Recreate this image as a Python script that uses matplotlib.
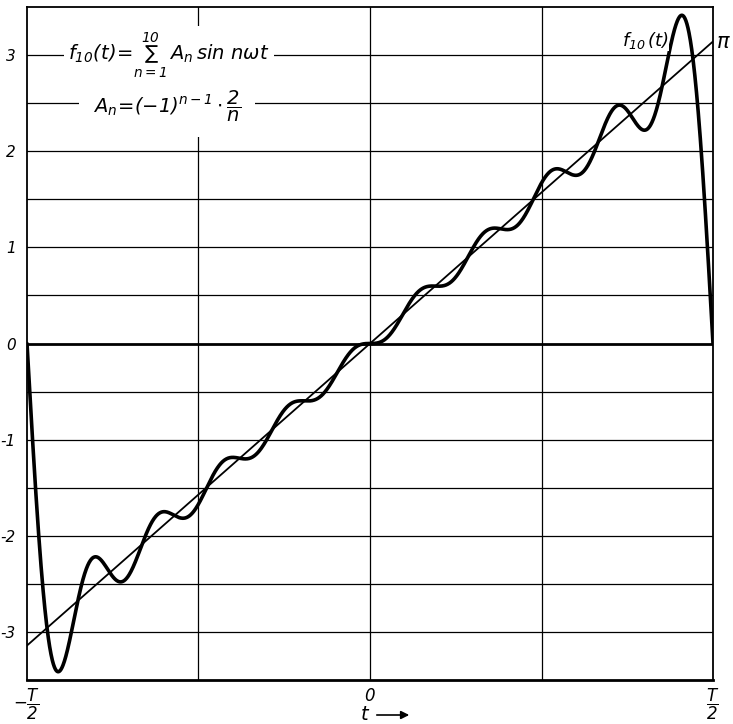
import numpy as np
import matplotlib
matplotlib.use("Agg")
import matplotlib.pyplot as plt

plt.rcParams['mathtext.fontset'] = 'custom'
plt.rcParams['mathtext.it'] = 'DejaVu Sans:italic'
plt.rcParams['mathtext.rm'] = 'DejaVu Sans:italic'
plt.rcParams['mathtext.sf'] = 'DejaVu Sans:italic'

# Fourier coefficients of the partial sum
n_terms = [1, 2, 3, 4, 5, 6, 7, 8, 9, 10]
A_n = [2.0, -1.0, 2/3, -0.5, 0.4, -1/3, 2/7, -0.25, 2/9, -0.2]

y_ticks = [3, 2, 1, 0, -1, -2, -3]
y_tick_labels = ['3', '2', '1', '0', '-1', '-2', '-3']
x_ticks = [-np.pi, 0, np.pi]
x_tick_labels = [r'$-\dfrac{T}{2}$', r'$0$', r'$\dfrac{T}{2}$']

wt = np.linspace(-np.pi, np.pi, 2000)
f10 = np.zeros_like(wt)
for n, a in zip(n_terms, A_n):
    f10 += a * np.sin(n * wt)

fig = plt.figure(figsize=(7.33, 7.24), dpi=100)
ax = fig.add_axes([27/733, 1 - 680/724, (713 - 27)/733, (680 - 7)/724])
ax.set_xlim(-np.pi, np.pi)
ax.set_ylim(-3.5, 3.5)

# grid
for yv in np.arange(-3.0, 3.01, 0.5):
    if abs(yv) < 1e-9:
        continue
    ax.axhline(yv, color='black', lw=0.9, zorder=1)
ax.axhline(0, color='black', lw=2.0, zorder=1)
for xv in [-np.pi/2, 0, np.pi/2]:
    ax.axvline(xv, color='black', lw=0.9, zorder=1)

# straight line y = ωt and the partial sum
ax.plot(wt, wt, color='black', lw=1.3, zorder=3)
ax.plot(wt, f10, color='black', lw=2.6, zorder=4, solid_capstyle='round')

for s in ax.spines.values():
    s.set_linewidth(1.3)
ax.spines['bottom'].set_linewidth(2.0)

ax.set_yticks(y_ticks)
ax.set_yticklabels(y_tick_labels, fontstyle='italic', fontsize=11)
ax.set_xticks(x_ticks)
ax.set_xticklabels(x_tick_labels, fontsize=12)
ax.tick_params(length=0, pad=5)
ax.tick_params(axis='y', pad=8)

ax.text(-1.84, 3.0, r'$f_{10}(t)\!=\!\sum_{n=1}^{10}\,A_n\,\sin\,n\omega t$',
        fontsize=14, ha='center', va='center',
        bbox=dict(facecolor='white', edgecolor='none', pad=3), zorder=6)
ax.text(-1.86, 2.47, r'$A_n\!=\!(-1)^{n-1}\cdot\dfrac{2}{n}$',
        fontsize=14, ha='center', va='center',
        bbox=dict(facecolor='white', edgecolor='none', pad=10), zorder=5)
ax.text(2.52, 3.15, r'$f_{10}\,(t)$', fontsize=13, ha='center', va='center',
        bbox=dict(facecolor='white', edgecolor='none', pad=0), zorder=5)
ax.text(3.24, 3.14, r'$\pi$', fontsize=15, ha='center', va='center',
        fontweight='bold', clip_on=False)

fig.text(370/733, 1 - 714/724, r'$t$', fontsize=14, ha='right', va='center')
ax.annotate('', xy=(412/733, 1 - 715/724), xytext=(374/733, 1 - 715/724),
            xycoords='figure fraction', textcoords='figure fraction',
            annotation_clip=False,
            arrowprops=dict(arrowstyle='-|>', color='black', lw=1.2,
                            mutation_scale=12))

fig.savefig('out.png', dpi=100, facecolor='white')
